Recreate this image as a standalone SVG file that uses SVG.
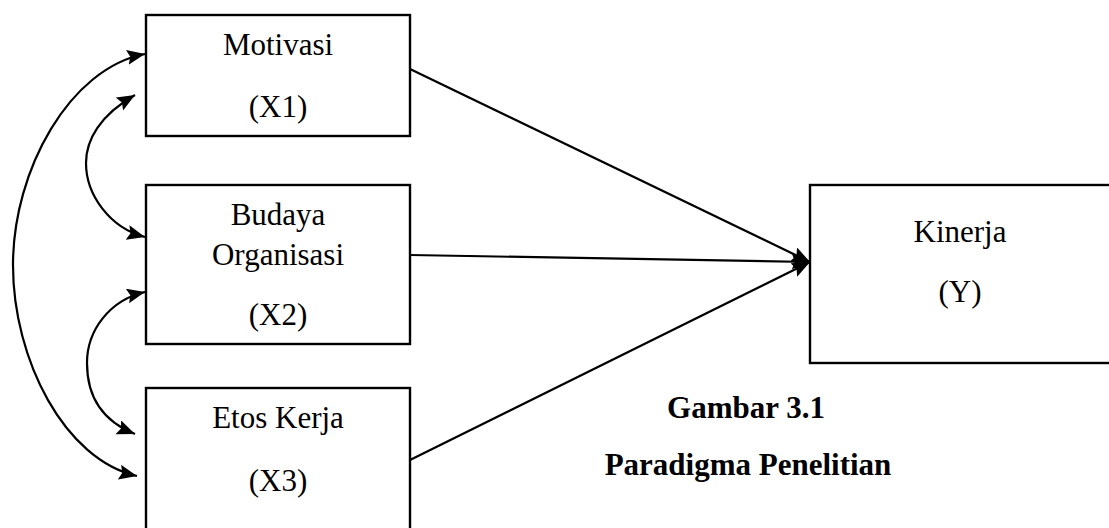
<svg xmlns="http://www.w3.org/2000/svg" width="1109" height="528" viewBox="0 0 1109 528">
<style>
.box{fill:#fff;stroke:#000;stroke-width:2.4}
.lbl{font-family:"Liberation Serif","Times New Roman",serif;font-size:31px;fill:#000;text-anchor:middle}
.cap{font-family:"Liberation Serif","Times New Roman",serif;font-size:31px;font-weight:bold;fill:#000;text-anchor:middle}
.con{fill:none;stroke:#000;stroke-width:2.2}
</style>
<defs>
<marker id="ah" markerUnits="userSpaceOnUse" markerWidth="20" markerHeight="16" refX="18" refY="7.5" orient="auto-start-reverse" viewBox="0 0 20 16">
<path d="M0,0 L18,7.5 L0,15 L3,7.5 z" fill="#000"/>
</marker>
</defs>
<rect width="1109" height="528" fill="#fff"/>
<g id="connectors">
<path class="con" d="M410,69 L810,262" marker-end="url(#ah)"/>
<path class="con" d="M410,255 L810,262" marker-end="url(#ah)"/>
<path class="con" d="M410,460 L810,262" marker-end="url(#ah)"/>
<path class="con" d="M145,54 C70,68 13,170 13,265 C13,360 65,460 137,476" marker-start="url(#ah)" marker-end="url(#ah)"/>
<path class="con" d="M135,95 C100,115 86,140 86,163 C86,195 110,228 145,237" marker-start="url(#ah)" marker-end="url(#ah)"/>
<path class="con" d="M145,292 C110,300 87,330 87,363 C87,395 100,420 135,434" marker-start="url(#ah)" marker-end="url(#ah)"/>
</g>
<g id="motivasi">
<rect class="box" x="146" y="15" width="264" height="121"/>
<text class="lbl" x="278" y="55">Motivasi</text>
<text class="lbl" x="278" y="117">(X1)</text>
</g>
<g id="budaya">
<rect class="box" x="146" y="185" width="264" height="159"/>
<text class="lbl" x="278" y="225">Budaya</text>
<text class="lbl" x="278" y="265">Organisasi</text>
<text class="lbl" x="278" y="325">(X2)</text>
</g>
<g id="etos">
<rect class="box" x="146" y="388" width="264" height="160"/>
<text class="lbl" x="278" y="428">Etos Kerja</text>
<text class="lbl" x="278" y="491">(X3)</text>
</g>
<g id="kinerja">
<rect class="box" x="810" y="185" width="302" height="178"/>
<text class="lbl" x="960" y="242">Kinerja</text>
<text class="lbl" x="960" y="302">(Y)</text>
</g>
<g id="caption">
<text class="cap" x="746" y="418">Gambar 3.1</text>
<text class="cap" x="748" y="475">Paradigma Penelitian</text>
</g>
</svg>
